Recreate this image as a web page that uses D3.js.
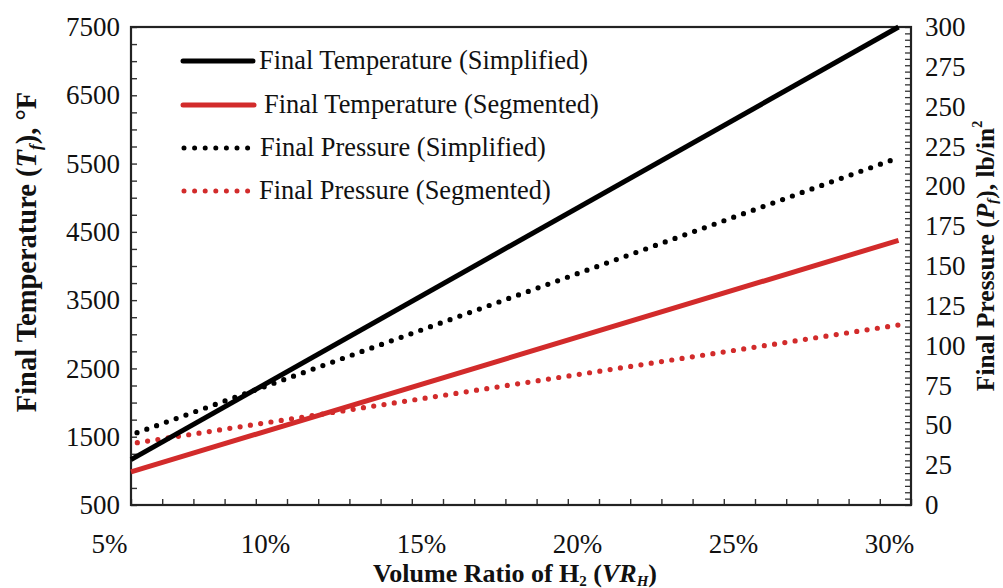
<!DOCTYPE html>
<html>
<head>
<meta charset="utf-8">
<script src="https://cdn.jsdelivr.net/npm/d3@7/dist/d3.min.js"></script>
<style>
  html, body { margin: 0; padding: 0; background: #fff; }
  svg text { font-family: "Liberation Serif", "Times New Roman", serif; fill: #111; }
</style>
</head>
<body>
<svg id="chart" width="1003" height="588"></svg>
<script>
// ---- data ----
const xTickValues = [0.05, 0.10, 0.15, 0.20, 0.25, 0.30];
const xTickLabels = ["5%", "10%", "15%", "20%", "25%", "30%"];
const tempTickValues = [500, 1500, 2500, 3500, 4500, 5500, 6500, 7500];
const pressTickValues = [0, 25, 50, 75, 100, 125, 150, 175, 200, 225, 250, 275, 300];

const volumeRatio = [0.05, 0.296];
const tempSimplified = [1165, 7500];
const tempSegmented = [985, 4375];
const pressSimplified = [44, 218];
const pressSegmented = [38.5, 113];

const legendLabels = [
  "Final Temperature (Simplified)",
  "Final Temperature (Segmented)",
  "Final Pressure (Simplified)",
  "Final Pressure (Segmented)"
];

// ---- layout ----
const svg = d3.select("#chart");
const L = 131, R = 911, T = 27, B = 505;
const red = "#d22b2b";

const x = d3.scaleLinear().domain([0.05, 0.30]).range([L, R]);
const yT = d3.scaleLinear().domain([500, 7500]).range([B, T]);
const yP = d3.scaleLinear().domain([0, 300]).range([B, T]);

// minor ticks
const xMinor = d3.range(5, 31).map(v => v / 100);
svg.append("g").attr("transform", `translate(0,${B})`)
  .call(d3.axisBottom(x).tickValues(xMinor).tickSize(-6).tickFormat(""))
  .call(g => g.select(".domain").remove())
  .call(g => g.selectAll("line").attr("stroke", "#333").attr("stroke-width", 1.4));
const tMinor = d3.range(500, 7501, 250);
svg.append("g").attr("transform", `translate(${L},0)`)
  .call(d3.axisLeft(yT).tickValues(tMinor).tickSize(-6).tickFormat(""))
  .call(g => g.select(".domain").remove())
  .call(g => g.selectAll("line").attr("stroke", "#333").attr("stroke-width", 1.4));
const pMinor = d3.range(0, 301, 4);
svg.append("g").attr("transform", `translate(${R},0)`)
  .call(d3.axisRight(yP).tickValues(pMinor).tickSize(-6).tickFormat(""))
  .call(g => g.select(".domain").remove())
  .call(g => g.selectAll("line").attr("stroke", "#333").attr("stroke-width", 1.3));

// labelled axes
svg.append("g").attr("transform", `translate(${L},0)`)
  .call(d3.axisLeft(yT).tickValues(tempTickValues).tickSize(0).tickPadding(11).tickFormat(d3.format("d")))
  .call(g => g.select(".domain").remove())
  .call(g => g.selectAll("text").attr("font-size", 27).attr("font-family", "Liberation Serif").attr("fill", "#111"));

svg.append("g").attr("transform", `translate(${R},0)`)
  .call(d3.axisRight(yP).tickValues(pressTickValues).tickSize(0).tickPadding(14).tickFormat(d3.format("d")))
  .call(g => g.select(".domain").remove())
  .call(g => g.selectAll("text").attr("font-size", 27).attr("font-family", "Liberation Serif").attr("fill", "#111"));

svg.append("g").attr("transform", `translate(0,${B})`)
  .call(d3.axisBottom(x).tickValues(xTickValues).tickSize(0).tickPadding(29)
    .tickFormat((d, i) => xTickLabels[i]))
  .call(g => g.select(".domain").remove())
  .call(g => g.selectAll("text").attr("font-size", 27).attr("font-family", "Liberation Serif")
    .attr("fill", "#111").attr("dx", -22));

// frame
svg.append("rect").attr("x", L).attr("y", T).attr("width", R - L).attr("height", B - T)
  .attr("fill", "none").attr("stroke", "#222").attr("stroke-width", 2.2);

// lines
const plot = svg.append("g");
function drawLine(vals, yScale, color, dotted) {
  const line = d3.line().x((d, i) => x(volumeRatio[i])).y(d => yScale(d));
  const p = plot.append("path").datum(vals).attr("d", line)
    .attr("fill", "none").attr("stroke", color);
  if (dotted) {
    p.attr("stroke-width", 5.2).attr("stroke-linecap", "round")
     .attr("stroke-dasharray", "0,10.4").attr("stroke-dashoffset", 4);
  } else {
    p.attr("stroke-width", 5);
  }
}
drawLine(pressSegmented, yP, red, true);
drawLine(pressSimplified, yP, "#000", true);
drawLine(tempSegmented, yT, red, false);
drawLine(tempSimplified, yT, "#000", false);

// legend
const legend = svg.append("g");
const legendRows = [
  { y: 61, color: "#000", dotted: false, x1: 183, x2: 253, tx: 259 },
  { y: 105, color: red, dotted: false, x1: 183, x2: 254, tx: 264 },
  { y: 148, color: "#000", dotted: true, x1: 184, x2: 248, tx: 260 },
  { y: 191, color: red, dotted: true, x1: 184, x2: 248, tx: 259 }
];
legendRows.forEach((r, i) => {
  const ln = legend.append("line").attr("x1", r.x1).attr("x2", r.x2).attr("y1", r.y).attr("y2", r.y)
    .attr("stroke", r.color);
  if (r.dotted) {
    ln.attr("stroke-width", 5).attr("stroke-linecap", "round").attr("stroke-dasharray", "0,10.6");
  } else {
    ln.attr("stroke-width", 5).attr("stroke-linecap", "round");
  }
  legend.append("text").attr("x", r.tx).attr("y", r.y + 8).attr("font-size", 26.4)
    .text(legendLabels[i]);
});

// axis titles
const lt = svg.append("text").attr("transform", "translate(36,252) rotate(-90)")
  .attr("text-anchor", "middle").attr("font-size", 28.5).attr("font-weight", "bold");
lt.append("tspan").text("Final Temperature (");
lt.append("tspan").attr("font-style", "italic").text("T");
lt.append("tspan").attr("font-style", "italic").attr("font-size", 17).attr("dy", 5).text("f");
lt.append("tspan").attr("dy", -5).text("), °F");

const rt = svg.append("text").attr("transform", "translate(994,256) rotate(-90)")
  .attr("text-anchor", "middle").attr("font-size", 25.5).attr("font-weight", "bold");
rt.append("tspan").text("Final Pressure (");
rt.append("tspan").attr("font-style", "italic").text("P");
rt.append("tspan").attr("font-style", "italic").attr("font-size", 15).attr("dy", 3).text("f");
rt.append("tspan").attr("dy", -3).text("), lb/in");
rt.append("tspan").attr("font-size", 14).attr("dy", -12).text("2");

const xt = svg.append("text").attr("x", 515).attr("y", 582)
  .attr("text-anchor", "middle").attr("font-size", 26).attr("font-weight", "bold");
xt.append("tspan").text("Volume Ratio of H");
xt.append("tspan").attr("font-size", 15).attr("dy", 4).text("2");
xt.append("tspan").attr("dy", -4).text(" (");
xt.append("tspan").attr("font-style", "italic").text("VR");
xt.append("tspan").attr("font-style", "italic").attr("font-size", 15).attr("dy", 4).text("H");
xt.append("tspan").attr("dy", -4).text(")");
</script>
</body>
</html>
